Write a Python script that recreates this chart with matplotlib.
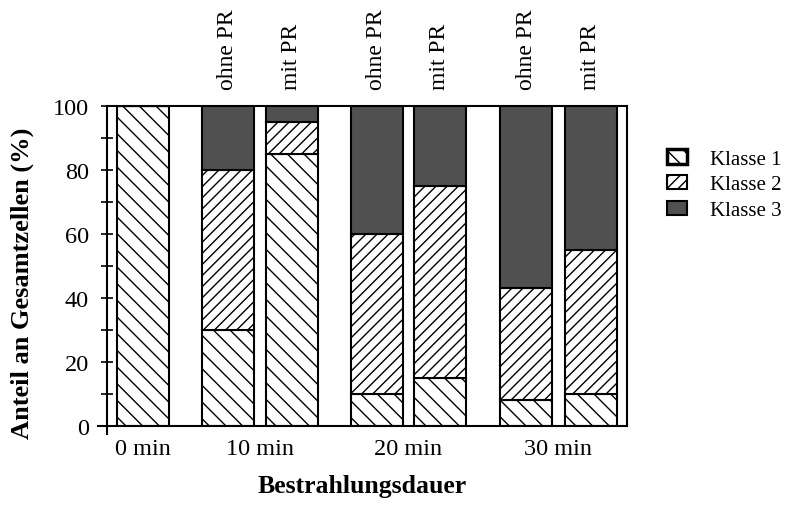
import numpy as np
import matplotlib.pyplot as plt
from matplotlib.patches import Patch

plt.rcParams['font.family'] = ['Liberation Serif', 'DejaVu Serif']
plt.rcParams['hatch.linewidth'] = 1.0

# data (percent of all cells)
conditions = ['', 'ohne PR', 'mit PR', 'ohne PR', 'mit PR', 'ohne PR', 'mit PR']
klasse1 = [100, 30, 85, 10, 15, 8, 10]
klasse2 = [0, 50, 10, 50, 60, 35, 45]
klasse3 = [0, 20, 5, 40, 25, 57, 45]
time_labels = ['0 min', '10 min', '20 min', '30 min']

# bar positions (bar width = 1)
xpos = np.array([0.7, 2.32, 3.55, 5.19, 6.4, 8.06, 9.3])
group_pos = [0.7, (2.32 + 3.55) / 2, (5.19 + 6.4) / 2, (8.06 + 9.3) / 2]

fig = plt.figure(figsize=(7.86, 5.10), dpi=100)
ax = fig.add_axes([107 / 786, 83 / 510, 520 / 786, 320 / 510])

k1 = np.array(klasse1)
k2 = np.array(klasse2)
k3 = np.array(klasse3)

ax.bar(xpos, k1, width=1.0, facecolor='white', edgecolor='black',
       hatch='\\\\', linewidth=1.5)
ax.bar(xpos, k2, width=1.0, bottom=k1, facecolor='white', edgecolor='black',
       hatch='///', linewidth=1.5)
ax.bar(xpos, k3, width=1.0, bottom=k1 + k2, facecolor='#505050',
       edgecolor='black', linewidth=1.5)

ax.set_xlim(0, 10)
ax.set_ylim(0, 100)

ax.set_yticks([0, 20, 40, 60, 80, 100])
ax.set_yticks([10, 30, 50, 70, 90], minor=True)
ax.tick_params(axis='y', which='both', direction='inout', length=8,
               width=1.2, labelsize=17.5, pad=9)
ax.set_xticks(group_pos)
ax.set_xticklabels(time_labels)
ax.tick_params(axis='x', length=0, labelsize=17.5, pad=9)

for s in ax.spines.values():
    s.set_linewidth(1.5)

# small axis overhangs at origin
ax.plot([-0.018, 0], [0, 0], transform=ax.transAxes, color='black',
        lw=1.5, clip_on=False)
ax.plot([0, 0], [-0.025, 0], transform=ax.transAxes, color='black',
        lw=1.5, clip_on=False)

# condition labels above bars
for x, lab in zip(xpos, conditions):
    if lab:
        ax.text(x, 105.3, lab, rotation=90, ha='center', va='bottom',
                fontsize=17, clip_on=False)

ax.set_xlabel('Bestrahlungsdauer', fontsize=18.5, fontweight='bold')
ax.xaxis.set_label_coords(0.49, -0.15)
ax.set_ylabel('Anteil an Gesamtzellen (%)', fontsize=19, fontweight='bold')
ax.yaxis.set_label_coords(-0.14, 0.45)

handles = [
    Patch(facecolor='white', edgecolor='black', hatch='\\\\', linewidth=2.5),
    Patch(facecolor='white', edgecolor='black', hatch='///', linewidth=1.5),
    Patch(facecolor='#505050', edgecolor='black', linewidth=1.5),
]
fig.legend(handles, ['Klasse 1', 'Klasse 2', 'Klasse 3'],
           loc='upper left', bbox_to_anchor=(667 / 786, 1 - 150 / 510),
           frameon=False, fontsize=15, handlelength=0.95, handleheight=0.7,
           handletextpad=1.1, labelspacing=0.3, borderpad=0,
           borderaxespad=0)

fig.savefig('out.png', dpi=100)
